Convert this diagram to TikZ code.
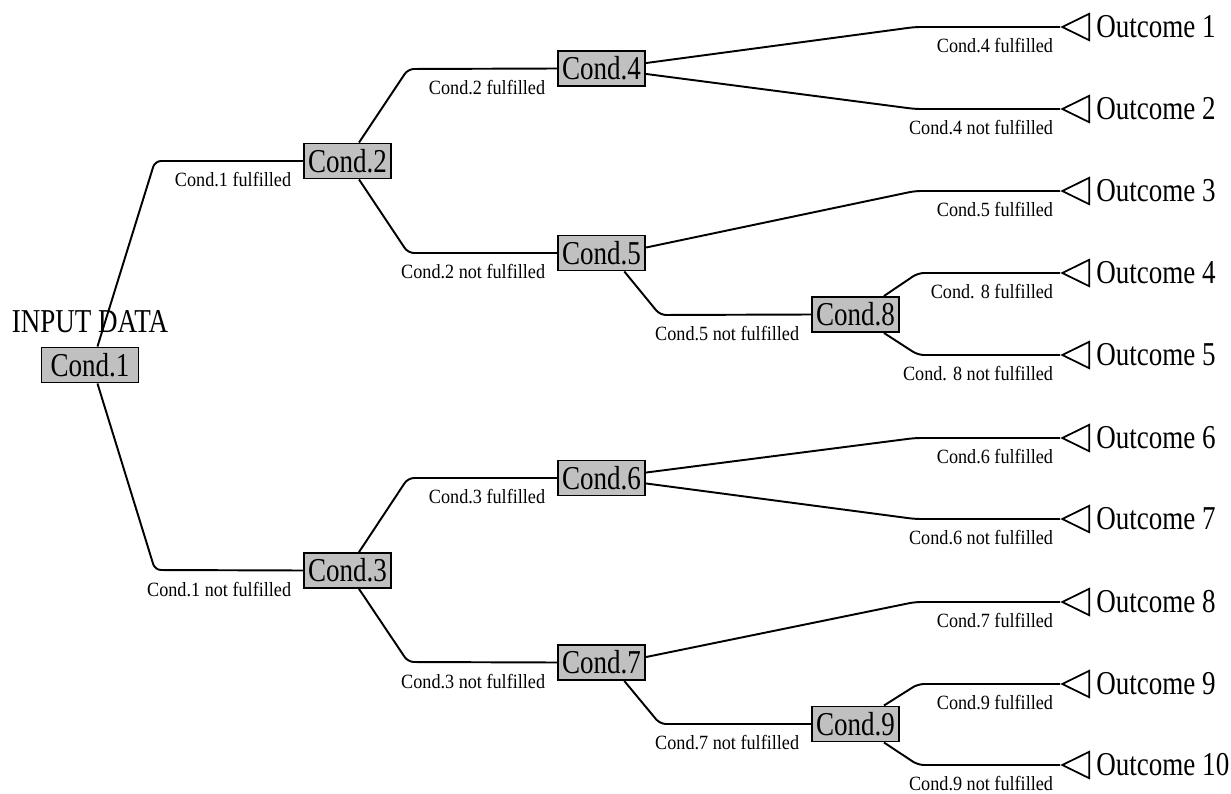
\documentclass[tikz,border=0pt]{standalone}
\usepackage{fontspec}
\setmainfont{Liberation Serif}
\newfontfamily\condfont[FakeStretch=0.81]{Liberation Serif}
\newfontfamily\lblfont[FakeStretch=0.9]{Liberation Serif}
\usetikzlibrary{positioning,shapes.geometric}
\definecolor{condgray}{RGB}{192,192,192}

\begin{document}
\begin{tikzpicture}[x=0.02cm,y=-0.02cm,
		cond/.style={rectangle,draw,fill=condgray,line width=1.1pt,minimum height=0.7cm,
			inner xsep=0.08cm,inner ysep=0pt,font=\condfont\fontsize{19}{19}\selectfont},
		branch/.style={line width=1.1pt,rounded corners=0.12cm},
		lbl/.style={anchor=north east,inner sep=0pt,xshift=#1,yshift=-0.21cm,
			font=\lblfont\fontsize{11.5}{12}\selectfont},
		lbl/.default=-0.22cm,
		tri/.style={isosceles triangle,draw,line width=1pt,shape border rotate=180,
			isosceles triangle stretches,minimum width=0.53cm,minimum height=0.54cm,
			inner sep=0pt,anchor=apex},
		outcome/.style={anchor=west,inner sep=0pt,font=\condfont\fontsize{19}{19}\selectfont}]
	\useasboundingbox (0,0) rectangle (1231,794);
	
	\node[cond,minimum width=1.94cm] (c1) at (90,365) {Cond.1};
	\node[inner sep=0pt,font=\condfont\fontsize{19}{19}\selectfont] (input) [above=0.26cm of c1] {INPUT DATA};
	\node[cond] (c2) at (347.5,161) {Cond.2};
	\node[cond] (c3) at (347.5,570.5) {Cond.3};
	\node[cond] (c4) at (601.5,68.5) {Cond.4};
	\node[cond] (c5) at (601.5,253) {Cond.5};
	\node[cond] (c6) at (601.5,478) {Cond.6};
	\node[cond] (c7) at (601.5,662.5) {Cond.7};
	\node[cond] (c8) at (855.5,314.5) {Cond.8};
	\node[cond] (c9) at (855.5,724) {Cond.9};
	
	% outcomes
	\foreach \i/\y in {1/27,2/109,3/191,4/273,5/355,6/438,7/519,8/602,9/684,10/765}{
		\node[tri] (t\i) at (1060,\y) {};
		\node[outcome] (o\i) at (1096,\y) {Outcome \i};
	}
	
	\draw[branch] (c1.68) -- (155,161) -- (c2.west) node[lbl] {Cond.1 fulfilled};
	\draw[branch] (c1.-68) -- (155,570) -- (c3.west) node[lbl] {Cond.1 not fulfilled};
	\draw[branch] (c2.58) -- (408,69) -- (c4.west) node[lbl] {Cond.2 fulfilled};
	\draw[branch] (c2.-58) -- (408,253) -- (c5.west) node[lbl] {Cond.2 not fulfilled};
	\draw[branch] (c3.58) -- (408,478) -- (c6.west) node[lbl] {Cond.3 fulfilled};
	\draw[branch] (c3.-58) -- (408,662) -- (c7.west) node[lbl] {Cond.3 not fulfilled};
	\draw[branch] (c4.7) -- (915,27) -- (t1.apex) node[lbl=-0.12cm] {Cond.4 fulfilled};
	\draw[branch] (c4.-7) -- (915,109) -- (t2.apex) node[lbl=-0.12cm] {Cond.4 not fulfilled};
	\draw[branch] (c5.7) -- (915,191) -- (t3.apex) node[lbl=-0.12cm] {Cond.5 fulfilled};
	\draw[branch] (c5.-39) -- (660,315) -- (c8.west) node[lbl] {Cond.5 not fulfilled};
	\draw[branch] (c8.33) -- (918,273) -- (t4.apex) node[lbl=-0.12cm] {Cond. 8 fulfilled};
	\draw[branch] (c8.-33) -- (918,355) -- (t5.apex) node[lbl=-0.12cm] {Cond. 8 not fulfilled};
	\draw[branch] (c6.7) -- (915,438) -- (t6.apex) node[lbl=-0.12cm] {Cond.6 fulfilled};
	\draw[branch] (c6.-7) -- (915,519) -- (t7.apex) node[lbl=-0.12cm] {Cond.6 not fulfilled};
	\draw[branch] (c7.7) -- (915,602) -- (t8.apex) node[lbl=-0.12cm] {Cond.7 fulfilled};
	\draw[branch] (c7.-39) -- (660,724) -- (c9.west) node[lbl] {Cond.7 not fulfilled};
	\draw[branch] (c9.33) -- (918,684) -- (t9.apex) node[lbl=-0.12cm] {Cond.9 fulfilled};
	\draw[branch] (c9.-33) -- (918,765) -- (t10.apex) node[lbl=-0.12cm] {Cond.9 not fulfilled};
\end{tikzpicture}
\end{document}
